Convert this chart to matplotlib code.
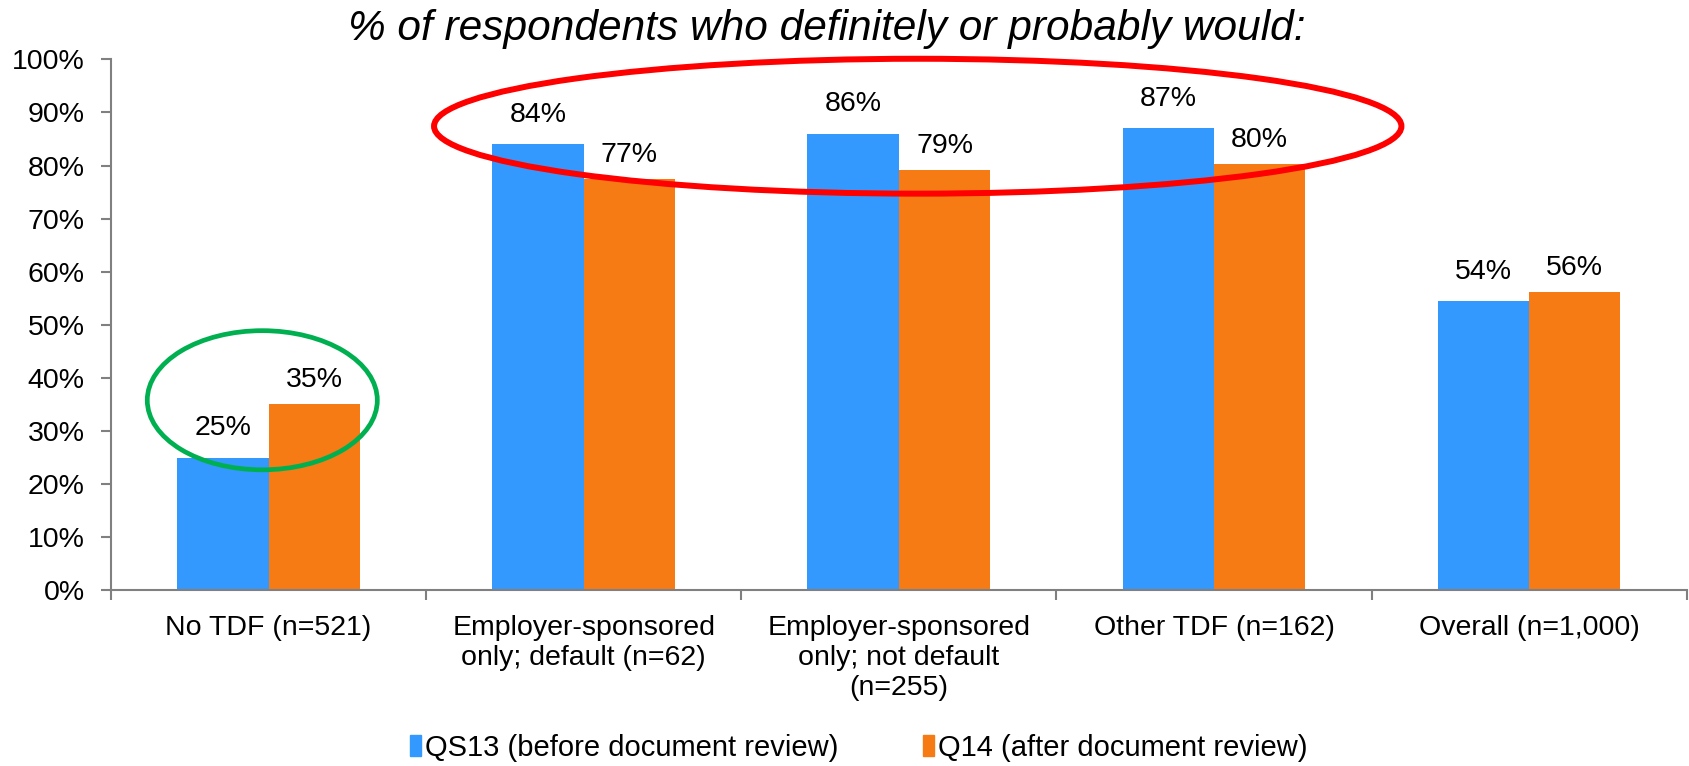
import numpy as np
import matplotlib
matplotlib.use('Agg')
import matplotlib.pyplot as plt
from matplotlib.patches import Ellipse, Patch

plt.rcParams['font.family'] = ['Liberation Sans', 'DejaVu Sans']

categories = ['No TDF (n=521)', 'Employer-sponsored\nonly; default (n=62)',
              'Employer-sponsored\nonly; not default\n(n=255)', 'Other TDF (n=162)',
              'Overall (n=1,000)']
before = [25.0, 84.0, 86.0, 87.0, 54.4]
after = [35.0, 77.5, 79.2, 80.3, 56.2]
before_labels = ['25%', '84%', '86%', '87%', '54%']
after_labels = ['35%', '77%', '79%', '80%', '56%']
series_names = ['QS13 (before document review)', 'Q14 (after document review)']

blue = '#3399FF'
orange = '#F77B14'
grey = '#808080'

fig = plt.figure(figsize=(16.9, 7.66), dpi=100)
ax = fig.add_axes([0.0657, 0.2293, 0.9323, 0.6933])

x = np.arange(len(categories))
w = 0.29
b1 = ax.bar(x - w/2, before, w, color=blue)
b2 = ax.bar(x + w/2, after, w, color=orange)

for rect, lab in zip(b1, before_labels):
    ax.annotate(lab, (rect.get_x() + rect.get_width()/2, rect.get_height()),
                xytext=(0, 12), textcoords='offset points', ha='center', va='bottom', fontsize=20.5)
for rect, lab in zip(b2, after_labels):
    ax.annotate(lab, (rect.get_x() + rect.get_width()/2, rect.get_height()),
                xytext=(0, 8), textcoords='offset points', ha='center', va='bottom', fontsize=20.5)

ax.set_xlim(-0.5, len(categories) - 0.5)
ax.set_ylim(0, 100)
ax.set_yticks(np.arange(0, 101, 10))
ax.set_yticklabels(['%d%%' % v for v in range(0, 101, 10)], fontsize=20.5)
ax.set_xticks(x)
ax.set_xticklabels(categories, fontsize=20.5, va='top', linespacing=1.2)
ax.set_xticks(np.arange(-0.5, len(categories), 1), minor=True)
ax.tick_params(axis='x', which='major', length=0, pad=18)
ax.tick_params(axis='x', which='minor', length=7, width=1.5, color=grey, direction='out')
ax.tick_params(axis='y', length=7, width=1.5, color=grey, pad=12)

for s in ['top', 'right']:
    ax.spines[s].set_visible(False)
for s in ['left', 'bottom']:
    ax.spines[s].set_color(grey)
    ax.spines[s].set_linewidth(1.5)

# highlight ellipses
ax.add_patch(Ellipse((2.06, 87.4), 3.07, 25.4, fill=False, edgecolor='#FF0000',
                     linewidth=4.3, clip_on=False, zorder=5))
ax.add_patch(Ellipse((-0.02, 35.8), 0.73, 26.2, fill=False, edgecolor='#00B050',
                     linewidth=3.4, clip_on=False, zorder=5))

fig.text(0.489, 0.962, '% of respondents who definitely or probably would:',
         ha='center', va='center', fontsize=30.5, style='italic')

handles = [Patch(color=blue), Patch(color=orange)]
fig.legend(handles, series_names, loc='center', bbox_to_anchor=(0.508, 0.024), ncol=2,
           frameon=False, fontsize=21, handlelength=0.4, handleheight=0.7,
           handletextpad=0.12, columnspacing=2.9, borderpad=0)

fig.savefig('out.png', dpi=100)
